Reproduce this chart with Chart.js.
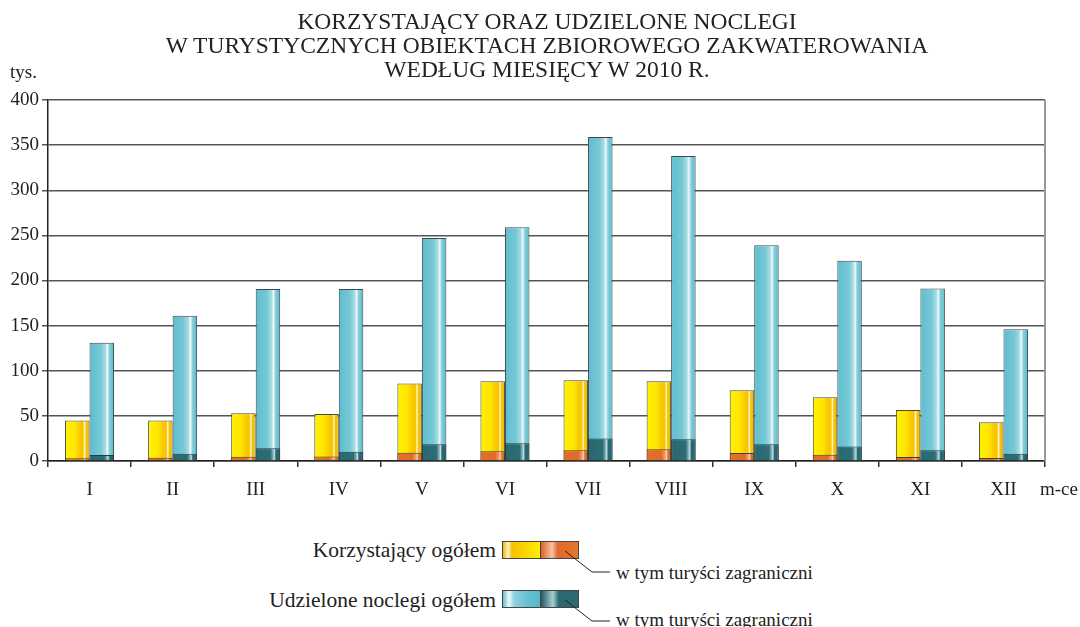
<!DOCTYPE html>
<html>
<head>
<meta charset="utf-8">
<script src="https://cdn.jsdelivr.net/npm/chart.js@4.4.1/dist/chart.umd.min.js"></script>
<style>
body{margin:0;background:#fff;font-family:"Liberation Serif","DejaVu Serif",serif;color:#222}
#wrap{position:relative;width:1080px;height:627px;overflow:hidden}
#chart{position:absolute;left:0;top:0}
#title{position:absolute;left:0;width:1094px;top:9px;text-align:center;font-size:23.5px;line-height:24px;white-space:nowrap}
.lg{position:absolute;font-size:21.5px;white-space:nowrap;line-height:22px}
.sm{font-size:19px}
.sw{position:absolute;height:18px;border:1px solid #444;box-sizing:border-box}
</style>
</head>
<body>
<div id="wrap">
<canvas id="chart" width="1080" height="515"></canvas>
<div id="title">KORZYSTAJĄCY ORAZ UDZIELONE NOCLEGI<br>W TURYSTYCZNYCH OBIEKTACH ZBIOROWEGO ZAKWATEROWANIA<br>WEDŁUG MIESIĘCY W 2010 R.</div>

<div class="lg" style="right:584px;top:539px">Korzystający ogółem</div>
<div class="sw" style="left:502px;top:541px;width:39px;background:linear-gradient(90deg,#f2bc00 0%,#fff4d0 14%,#f4c200 24%,#fad400 60%,#fff000 100%)"></div>
<div class="sw" style="left:540px;top:541px;width:39px;background:linear-gradient(90deg,#de6228 0%,#f5c2a2 30%,#e06a2e 45%,#e5772a 100%)"></div>
<div class="lg sm" style="left:616px;top:562px">w tym turyści zagraniczni</div>

<div class="lg" style="right:584px;top:589px">Udzielone noclegi ogółem</div>
<div class="sw" style="left:502px;top:590px;width:39px;background:linear-gradient(90deg,#62bfd0 0%,#eef9fa 16%,#8fd3de 30%,#62bfd0 70%,#58b8ca 100%)"></div>
<div class="sw" style="left:540px;top:590px;width:39px;background:linear-gradient(90deg,#24585f 0%,#aacfd3 32%,#2a6a72 48%,#2d6870 100%)"></div>
<div class="lg sm" style="left:616px;top:609px">w tym turyści zagraniczni</div>

<svg style="position:absolute;left:0;top:0" width="1080" height="627">
  <polyline points="565,551 592,572 610,572" fill="none" stroke="#222" stroke-width="1"/>
  <polyline points="565,600 592,621 610,621" fill="none" stroke="#222" stroke-width="1"/>
</svg>
</div>

<script>
'use strict';
var months=['I','II','III','IV','V','VI','VII','VIII','IX','X','XI','XII'];
// tys.
var korzystajacy=[45,45,53,52,86,88.5,89.5,88.5,78.5,70.5,56.5,43];
var korzystajacyZagr=[3,3.5,4.8,5,9.2,10.7,11.8,12.9,8.9,7,4.4,3.3];
var noclegi=[131,161,190.5,190.5,247,259,359,338,239,222,191,146];
var noclegiZagr=[6.6,8,14,10.3,18.5,19.6,25,24,18.5,16.2,11.8,8];
var yTicks=[0,50,100,150,200,250,300,350,400];

var catPct=0.59;
var serif='"Liberation Serif", "DejaVu Serif", serif';

var yellowStops=[[0,'#fff200'],[0.4,'#ffe600'],[0.62,'#f8c800'],[0.74,'#f7c400'],[0.8,'#fff6dc'],[0.86,'#f6c500'],[1,'#f0b900']];
var orangeStops=[[0,'#e3702f'],[0.6,'#e06a2c'],[0.76,'#f0a070'],[0.81,'#f8d2bb'],[0.87,'#e06a2c'],[1,'#dc6428']];
var blueStops=[[0,'#5ebdcf'],[0.45,'#77c8d6'],[0.64,'#a5dbe4'],[0.73,'#f2fafb'],[0.8,'#8fd1dc'],[0.9,'#6cc3d3'],[1,'#5ab8ca']];
var tealStops=[[0,'#2a6870'],[0.6,'#2d6d75'],[0.72,'#8fbcc1'],[0.76,'#c5dfe2'],[0.82,'#2b6a72'],[1,'#26606a']];

function barGrad(stops,side){
    return function(c){
        var chart=c.chart, xs=chart.scales.x;
        if(!xs || !chart.chartArea){return stops[0][1];}
        var center=xs.getPixelForValue(c.dataIndex);
        var cw=xs.width/months.length;
        var w=cw*catPct/2;
        var x0= side===0 ? center-w : center;
        var g=chart.ctx.createLinearGradient(x0,0,x0+w,0);
        stops.forEach(function(s){g.addColorStop(s[0],s[1]);});
        return g;
    };
}

var extraText={
    id:'extraText',
    afterDraw:function(chart){
        var ctx=chart.ctx, a=chart.chartArea;
        ctx.save();
        ctx.font='19px '+serif;
        ctx.fillStyle='#222';
        ctx.textBaseline='middle';
        ctx.textAlign='left';
        ctx.fillText('tys.',10,73);
        ctx.fillText('m-ce',1040,490);
        // right frame
        ctx.strokeStyle='#999';
        ctx.lineWidth=2;
        ctx.beginPath();
        ctx.moveTo(a.right,a.top);
        ctx.lineTo(a.right,a.bottom);
        ctx.stroke();
        ctx.restore();
    }
};

var ctx=document.getElementById('chart').getContext('2d');
var chart=new Chart(ctx,{
    type:'bar',
    data:{
        labels:months,
        datasets:[
            {label:'Korzystający ogółem',data:korzystajacy,stack:'k',order:2,
             backgroundColor:barGrad(yellowStops,0),borderColor:'#4a4a3a',borderWidth:1},
            {label:'Udzielone noclegi ogółem',data:noclegi,stack:'u',order:2,
             backgroundColor:barGrad(blueStops,1),borderColor:'#3a4a4c',borderWidth:1},
            {label:'w tym turyści zagraniczni',data:korzystajacyZagr,stack:'k',order:1,
             backgroundColor:barGrad(orangeStops,0),borderColor:'#4a3a30',borderWidth:1},
            {label:'w tym turyści zagraniczni',data:noclegiZagr,stack:'u',order:1,
             backgroundColor:barGrad(tealStops,1),borderColor:'#2a3a3c',borderWidth:1}
        ]
    },
    options:{
        responsive:false,
        animation:false,
        layout:{padding:{left:0,right:35,top:100,bottom:0}},
        datasets:{bar:{categoryPercentage:catPct,barPercentage:1}},
        plugins:{
            legend:{display:false},
            tooltip:{enabled:false},
            title:{display:false}
        },
        scales:{
            x:{
                stacked:true,
                grid:{display:true,drawOnChartArea:false,drawTicks:true,tickLength:6,color:'#333',lineWidth:1.5,offset:true},
                border:{display:true,color:'#222',width:1.5},
                ticks:{color:'#222',padding:12,font:{family:serif,size:19}},
                afterFit:function(s){s.height=54;}
            },
            y:{
                stacked:false,
                min:0,max:400,
                afterBuildTicks:function(s){s.ticks=yTicks.map(function(v){return {value:v};});},
                grid:{color:'#555',lineWidth:1.5,tickLength:6,drawTicks:true},
                border:{display:true,color:'#222',width:1.5},
                ticks:{color:'#222',padding:3,font:{family:serif,size:19}},
                afterFit:function(s){s.width=48;}
            }
        }
    },
    plugins:[extraText]
});
</script>
</body>
</html>
